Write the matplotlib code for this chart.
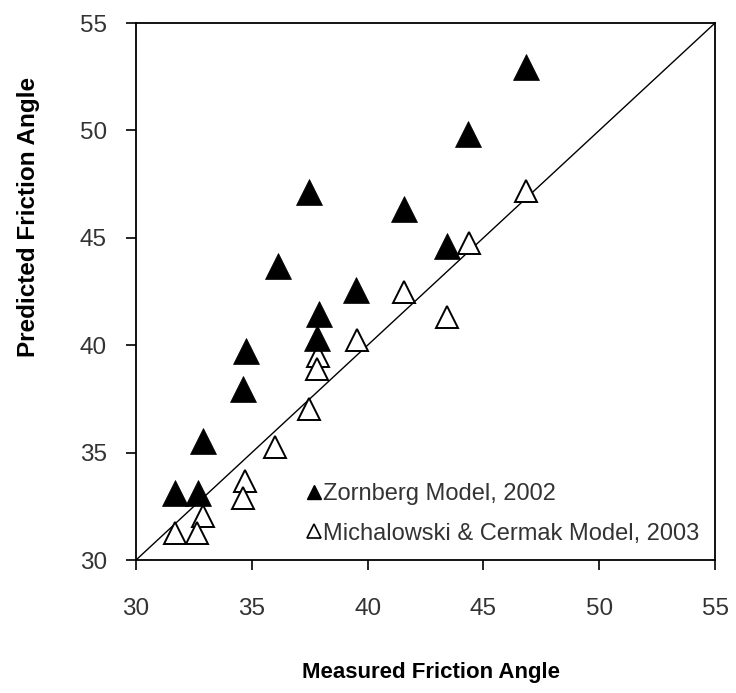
import matplotlib
matplotlib.use('Agg')
import matplotlib.pyplot as plt
from matplotlib.lines import Line2D

plt.rcParams['font.family'] = ['Liberation Sans', 'DejaVu Sans']

# measured vs predicted friction angles (degrees)
zorn_measured = [46.85, 44.35, 37.49, 41.59, 43.42, 36.12, 39.50, 37.92, 37.80,
                 34.74, 34.64, 32.91, 31.68, 32.69]
zorn_predicted = [52.93, 49.83, 47.13, 46.34, 44.63, 43.69, 42.59, 41.44, 40.34,
                  39.75, 37.96, 35.55, 33.10, 33.10]

mich_measured = [46.85, 44.36, 41.59, 43.42, 39.53, 37.86, 37.80, 37.47, 36.00,
                 34.71, 34.64, 32.91, 31.68, 32.62]
mich_predicted = [47.18, 44.76, 42.49, 41.33, 40.24, 39.51, 38.89, 37.03, 35.28,
                  33.69, 32.87, 32.06, 31.24, 31.24]

ticks = [30, 35, 40, 45, 50, 55]
lims = [30, 55]

fig = plt.figure(figsize=(7.36, 6.93), dpi=100)
ax = fig.add_axes([0.1848, 0.1919, 0.7867, 0.7749])

# 1:1 line
ax.plot(lims, lims, color='black', lw=1.0, zorder=1)

ax.plot(zorn_measured, zorn_predicted, ls='none', marker='^', ms=18.5,
        mfc='black', mec='black', mew=0.5, zorder=3)
ax.plot(mich_measured, mich_predicted, ls='none', marker='^', ms=16.5,
        mfc='white', mec='black', mew=1.4, zorder=2)

ax.set_xlim(lims)
ax.set_ylim(lims)
ax.set_xticks(ticks)
ax.set_yticks(ticks)
ax.tick_params(direction='out', length=7, width=1.2, labelsize=17.5,
               labelcolor='#333333')
ax.tick_params(axis='x', pad=20)
ax.tick_params(axis='y', pad=14)
for s in ax.spines.values():
    s.set_linewidth(1.3)

ax.set_xlabel('Measured Friction Angle', fontsize=16, fontweight='bold')
ax.set_ylabel('Predicted Friction Angle', fontsize=17.5, fontweight='bold')
ax.xaxis.set_label_coords(0.51, -0.19)
ax.yaxis.set_label_coords(-0.165, 0.639)

handles = [
    Line2D([], [], ls='none', marker='^', ms=10, mfc='black', mec='black'),
    Line2D([], [], ls='none', marker='^', ms=10, mfc='white', mec='black', mew=1.2),
]
labels = ['Zornberg Model, 2002', 'Michalowski & Cermak Model, 2003']
leg = ax.legend(handles, labels, loc='lower left', bbox_to_anchor=(0.268, -0.002),
                frameon=False, fontsize=17, handlelength=0.55, handletextpad=0.1,
                labelspacing=0.75, borderaxespad=0.3)
for t in leg.get_texts():
    t.set_color('#333333')

plt.savefig('out.png', dpi=100)
